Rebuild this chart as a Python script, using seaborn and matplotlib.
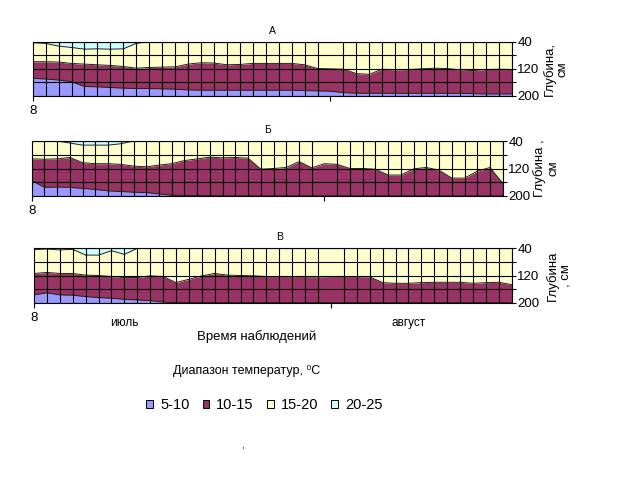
import matplotlib
matplotlib.use("Agg")
import matplotlib.pyplot as plt
import matplotlib.transforms as mtransforms
from matplotlib.patches import Patch
import pandas as pd
import seaborn as sns

# ---------------- data (depth, cm, of the boundary tops) ----------------
days = list(range(38))
depth_ticks = [40, 80, 120, 160, 200]
depth_ticklabels = ["40", "", "120", "", "200"]
ranges = ["5-10", "10-15", "15-20", "20-25"]

# Panel А
a_blue_top = [148, 150, 153, 158, 172, 173, 175, 177, 178, 178,
              179, 180, 182, 183, 183, 183, 183, 183, 183, 183,
              183, 184, 185, 186, 190, 192, 192, 192, 192, 192,
              192, 192, 192, 192, 193, 194, 194, 194]
a_maroon_top = [99, 99, 100, 104, 106, 108, 110, 113, 118, 116,
                115, 114, 106, 102, 103, 108, 107, 104, 104, 104,
                104, 108, 119, 120, 121, 134, 136, 121, 123, 122,
                120, 118, 119, 123, 125, 122, 121, 122]
a_yellow_top = [43, 45, 53, 57, 62, 61, 62, 61, 45, 40] + [40] * 28

# Panel Б
b_blue_top = [155, 175, 174, 175, 178, 181, 185, 187, 189, 190,
              194, 198, 198, 199, 199, 200, 200, 200, 200, 200] + [200] * 18
b_maroon_top = [92, 93, 92, 88, 103, 106, 106, 108, 113, 115,
                110, 106, 97, 92, 87, 89, 88, 90, 122, 120,
                117, 100, 118, 106, 108, 120, 120, 122, 139, 139,
                121, 117, 125, 148, 148, 128, 117, 163]
b_yellow_top = [40, 40, 40, 46, 52, 52, 52, 48, 40, 40] + [40] * 28

# Panel В
c_blue_top = [177, 171, 177, 178, 182, 185, 187, 190, 192, 194,
              198] + [200] * 27
c_maroon_top = [114, 111, 114, 114, 119, 120, 123, 126, 126, 121,
                123, 141, 131, 121, 114, 119, 120, 121, 123, 123,
                123, 123, 124, 123, 123, 123, 124, 141, 143, 143,
                141, 140, 140, 140, 143, 141, 140, 147]
c_yellow_top = [44, 42, 45, 43, 60, 60, 47, 58, 40, 40] + [40] * 28

C_BLUE, C_MAROON, C_YELLOW, C_CYAN = "#9999FF", "#993366", "#FFFFCC", "#CCFFFF"

# ---------------- style ----------------
sns.set_theme(style="white")
plt.rcParams["font.family"] = ["Liberation Sans", "DejaVu Sans"]
plt.rcParams["text.color"] = "black"

W, H = 639, 483
fig = plt.figure(figsize=(W / 100, H / 100), dpi=100)


def px_axes(left, top, right, bottom):
    return fig.add_axes([left / W, 1 - bottom / H, (right - left) / W, (bottom - top) / H])


panels = [
    ("А", (32.7, 41.7, 511.7, 96.0), a_blue_top, a_maroon_top, a_yellow_top,
     "Глубина,\nсм", 44, 0.0),
    ("Б", (31.7, 141.0, 502.7, 196.0), b_blue_top, b_maroon_top, b_yellow_top,
     "Глубина ,\nсм", 44, 0.0),
    ("В", (34.0, 248.3, 511.7, 302.7), c_blue_top, c_maroon_top, c_yellow_top,
     "Глубина\n, см", 47, 7.0),
]

axes = []
for title, box, blue, maroon, yellow, ylab, yoff, tdx in panels:
    ax = px_axes(*box)
    axes.append(ax)
    ax.fill_between(days, 200, blue, color=C_BLUE, lw=0)
    ax.fill_between(days, blue, maroon, color=C_MAROON, lw=0)
    ax.fill_between(days, maroon, yellow, color=C_YELLOW, lw=0)
    ax.fill_between(days, yellow, 40, color=C_CYAN, lw=0)

    df = pd.DataFrame({
        "day": days * 3,
        "depth": list(blue) + list(maroon) + list(yellow),
        "boundary": ["b1"] * 38 + ["b2"] * 38 + ["b3"] * 38,
    })
    sns.lineplot(data=df, x="day", y="depth", hue="boundary",
                 palette=["#202020"] * 3, legend=False, linewidth=0.7, ax=ax)

    ax.set_xlim(0, 37)
    ax.set_ylim(200, 40)
    ax.set_xlabel("")
    ax.set_ylabel("")

    ax.yaxis.tick_right()
    ax.set_yticks(depth_ticks)
    ax.set_yticklabels(depth_ticklabels)
    ax.tick_params(axis="y", which="major", direction="out", length=3, width=0.8,
                   pad=1, labelsize=9.5, colors="black", right=True, left=False)

    ax.set_xticks([0, 23])
    ax.set_xticklabels(["8", ""])
    ax.set_xticks(days, minor=True)
    ax.tick_params(axis="x", which="major", direction="out", length=3.5, width=0.8,
                   pad=3, labelsize=9.5, colors="black", bottom=True)
    ax.tick_params(axis="x", which="minor", length=0, bottom=False)

    ax.grid(False)
    ax.grid(True, axis="x", which="minor", color="black", lw=0.8)
    ax.grid(True, axis="y", which="major", color="black", lw=0.8)
    ax.set_axisbelow(False)
    for s in ax.spines.values():
        s.set_color("black")
        s.set_linewidth(0.8)

    bw = box[2] - box[0]
    ax.text(0.5 + tdx / bw, 1.0, title, transform=ax.transAxes, ha="center",
            va="bottom", fontsize=7.5,
            transform_rotates_text=False).set_transform(
        ax.transAxes + mtransforms.ScaledTranslation(tdx / 100 * 0, 6 / 100, fig.dpi_scale_trans))

    ax.annotate(ylab, xy=(1, 0.5), xycoords="axes fraction",
                xytext=(yoff * 0.72, 0), textcoords="offset points",
                rotation=90, ha="center", va="center", fontsize=9.5,
                linespacing=1.15)

# month labels under the bottom panel
axc = axes[2]
trans = mtransforms.blended_transform_factory(axc.transData, axc.transAxes)
axc.text(7, -0.37, "июль", transform=trans, ha="center", va="center", fontsize=8.5)
axc.text(29, -0.37, "август", transform=trans, ha="center", va="center", fontsize=8.5)

fig.text(256.5 / W, 1 - 337 / H, "Время наблюдений", ha="center", va="center",
         fontsize=9.5)
fig.text(247 / W, 1 - 371 / H, "Диапазон температур, ⁰С", ha="center", va="center",
         fontsize=9)

handles = [Patch(facecolor=c, edgecolor="black", linewidth=0.7)
           for c in (C_BLUE, C_MAROON, C_YELLOW, C_CYAN)]
fig.legend(handles, ranges, loc="center", bbox_to_anchor=(264.5 / W, 1 - 405 / H),
           ncol=4, frameon=False, fontsize=10.5, handlelength=0.45,
           handleheight=0.45, handletextpad=0.5, columnspacing=0.9,
           borderpad=0, borderaxespad=0)

fig.text(242 / W, 1 - 446 / H, ",", ha="center", va="center", fontsize=7)

fig.savefig("out.png", dpi=100)
